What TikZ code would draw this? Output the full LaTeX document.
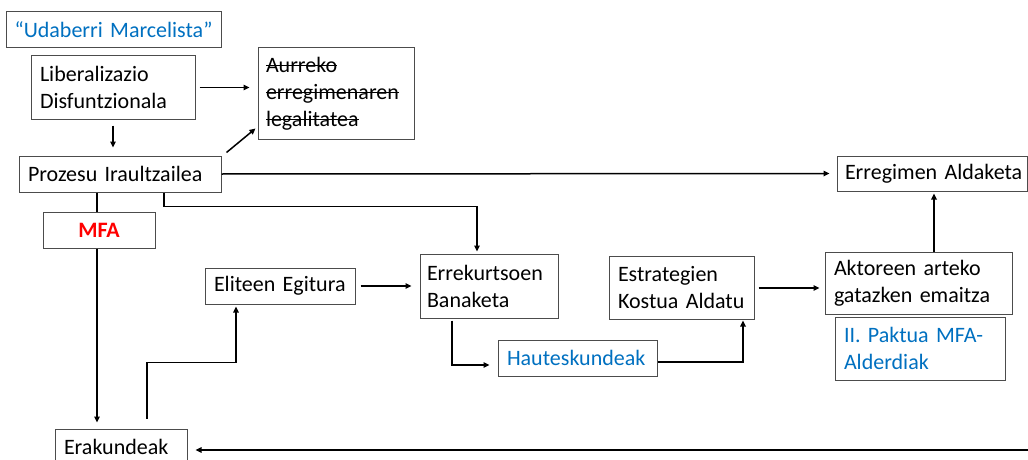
\documentclass[tikz,border=0pt]{standalone}
\usepackage{fontspec}
\setmainfont{Carlito}
\usetikzlibrary{arrows.meta,calc}
\definecolor{wblue}{RGB}{0,112,192}
\definecolor{wred}{RGB}{255,0,0}
\newlength\strklen
\newcommand\strk[1]{\leavevmode\settowidth\strklen{#1}\rlap{#1}\rule[0.27em]{\strklen}{0.07em}}
\begin{document}
\begin{tikzpicture}[x=1pt,y=-1pt,
  box/.style={draw=black!70, line width=1pt, inner xsep=9pt, inner ysep=0pt, align=left,
    font=\fontsize{22}{27}\selectfont, anchor=center},
  arr/.style={line width=1.5pt, -{Triangle[length=6pt,width=5.5pt]}},
  ln/.style={line width=1.5pt}]
\useasboundingbox (0,0) rectangle (1028,460);
\clip (0,0) rectangle (1028,460);
\node[box, minimum width=215pt, minimum height=36pt, text width=205pt, inner xsep=5pt, align=center, text=wblue] (ud) at (113.5,30) {“Udaberri Marcelista”};
\node[box, minimum width=164pt, minimum height=63pt, text width=146pt] (lib) at (113,87.5) {Liberalizazio\\Disfuntzionala};
\node[box, minimum width=156pt, minimum height=91pt, text width=140pt, inner xsep=8pt] (aur) at (336,93.5) {\strk{Aurreko}\\\strk{erregimenaren}\\\strk{legalitatea}};
\node[box, minimum width=202pt, minimum height=36pt, text width=184pt] (proz) at (120,174) {Prozesu Iraultzailea};
\node[box, minimum width=112pt, minimum height=36pt, text width=94pt, align=center, text=wred, font=\fontsize{22}{27}\selectfont\bfseries] (mfa) at (99,230) {MFA};
\node[box, minimum width=190pt, minimum height=35pt, text width=182pt, inner xsep=4pt] (erreg) at (932,173.5) {\hspace*{4pt}Erregimen Aldaketa};
\node[box, minimum width=150pt, minimum height=36pt, text width=132pt] (elit) at (280,286) {Eliteen Egitura};
\node[box, minimum width=138pt, minimum height=64pt, text width=124pt, inner xsep=7pt] (errek) at (489,286) {Errekurtsoen\\Banaketa};
\node[box, minimum width=145pt, minimum height=63pt, text width=127pt] (estr) at (681.5,287.5) {Estrategien\\Kostua Aldatu};
\node[box, minimum width=159pt, minimum height=36pt, text width=141pt, text=wblue] (haut) at (577.5,358) {Hauteskundeak};
\node[box, minimum width=187pt, minimum height=62pt, text width=169pt] (akt) at (918.5,283) {Aktoreen arteko\\gatazken emaitza};
\node[box, minimum width=170pt, minimum height=63pt, text width=152pt, text=wblue] (pakt) at (920,348.5) {II. Paktua MFA-\\Alderdiak};
\node[box, minimum width=132pt, minimum height=36pt, text width=114pt] (erak) at (121,447) {Erakundeak};
\coordinate (re) at (1032,450);
% connectors
\draw[arr, shorten <=4pt, shorten >=8pt] (lib.east) -- (lib.east -| aur.west);
\draw[arr, shorten <=6pt, shorten >=8pt] (lib.south) -- (lib.south |- proz.north);
\draw[arr] ([shift={(5,-3)}]proz.north east) -- ([shift={(-2,-11)}]aur.south west);
\draw[arr, shorten >=7pt] (proz.east) -- (erreg.west);
\draw[arr, shorten >=2pt] ([xshift=44pt]proz.south) -- ++(0,14) -| ([xshift=-12pt]errek.north);
\draw[ln] ([xshift=-2pt]mfa.north |- proz.south) -- ([xshift=-2pt]mfa.north);
\draw[arr, shorten >=6pt] ([xshift=-2pt]mfa.south) -- ([xshift=-2pt]mfa.south |- erak.north);
\draw[arr, shorten >=2pt] ([xshift=26pt,yshift=10pt]erak.north) -- ++(0,-56) -| ([xshift=-44pt]elit.south);
\draw[arr, shorten <=5pt, shorten >=8pt] (elit.east) -- (elit.east -| errek.west);
\draw[arr] ([xshift=-37pt,yshift=-2pt]errek.south) |- ([xshift=-8pt,yshift=-7pt]haut.west);
\draw[arr, shorten >=1pt] ([yshift=-4pt]haut.east) -| ([xshift=61.5pt]estr.south);
\draw[arr, shorten <=4pt, shorten >=5pt] ([yshift=-0.5pt]estr.east) -- ([yshift=-0.5pt]estr.east -| akt.west);
\draw[arr, shorten >=2pt] ([xshift=15.5pt]akt.north) -- ([xshift=15.5pt]akt.north |- erreg.south);
\draw[arr, shorten >=8pt] (re) -- ([yshift=-3pt]erak.east);
\end{tikzpicture}
\end{document}
